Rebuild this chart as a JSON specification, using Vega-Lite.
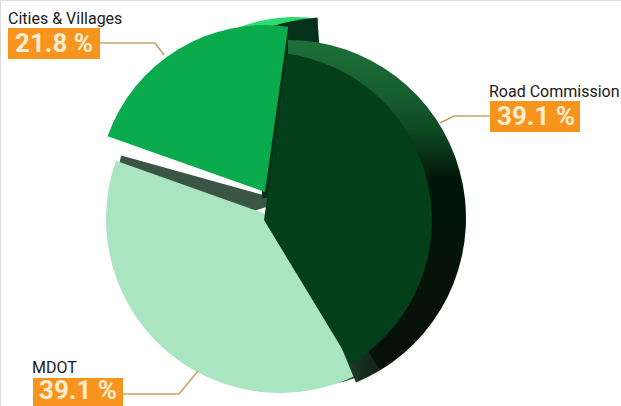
{"$schema":"https://vega.github.io/schema/vega-lite/v6.json","width":621,"height":406,"padding":0,"autosize":{"type":"fit","contains":"padding"},"background":"#ffffff","data":{"values":[{"slice":"Road Commission","share":39.1},{"slice":"MDOT","share":39.1},{"slice":"Cities & Villages","share":21.8}]},"transform":[{"stack":"share","groupby":[],"as":["s0","s1"]},{"calculate":"format(datum.share,'.1f')+' %'","as":"share_text"}],"layer":[
{"transform":[{"filter":"datum.slice==='MDOT'"}],"mark":{"type":"arc","x":285,"y":201,"outerRadius":170,"theta":4.4,"theta2":4.983,"fill":"#3a5544"},"encoding":{}},
{"transform":[{"filter":"datum.slice==='Cities & Villages'"}],"mark":{"type":"arc","x":296,"y":178,"outerRadius":161,"fill":"#2edb6e"},"encoding":{"theta":{"field":"s0","type":"quantitative","stack":null,"scale":{"domain":[0,100],"range":[0.1396,6.4228]}},"theta2":{"field":"s1"}}},
{"transform":[{"filter":"datum.slice==='Cities & Villages'"}],"mark":{"type":"arc","x":330,"y":198,"outerRadius":181,"theta":-0.7,"theta2":-0.07,"fill":"#05301a"},"encoding":{}},
{"transform":[{"filter":"datum.slice==='Cities & Villages'"}],"mark":{"type":"arc","x":262,"y":198,"outerRadius":155,"theta":0,"theta2":1.57,"fill":"#05301a"},"encoding":{}},
{"transform":[{"filter":"datum.slice==='Cities & Villages'"}],"mark":{"type":"arc","x":265,"y":192,"outerRadius":167,"fill":"#09ab4c"},"encoding":{"theta":{"field":"s0","type":"quantitative","stack":null},"theta2":{"field":"s1"}}},
{"transform":[{"filter":"datum.slice==='MDOT'"}],"mark":{"type":"arc","x":300,"y":215,"outerRadius":172,"theta":2.62,"theta2":3.11,"fill":"#2c5a3c"},"encoding":{}},
{"transform":[{"filter":"datum.slice==='MDOT'"}],"mark":{"type":"arc","x":280,"y":219,"outerRadius":174,"fill":"#a9e5c0"},"encoding":{"theta":{"field":"s0","type":"quantitative","stack":null},"theta2":{"field":"s1"}}},
{"transform":[{"filter":"datum.slice==='MDOT'"}],"mark":{"type":"arc","x":288,"y":218,"outerRadius":178,"theta":2.6,"theta2":2.75,"fill":{"x1":0,"y1":0,"x2":1,"y2":0,"gradient":"linear","stops":[{"offset":0,"color":"#3a6a4c"},{"offset":1,"color":"#0f2015"}]}},"encoding":{}},
{"transform":[{"filter":"datum.slice==='Road Commission'"}],"mark":{"type":"arc","x":288,"y":218,"outerRadius":178,"theta":0,"theta2":2.6,"fill":{"x1":0,"y1":0,"x2":0,"y2":1,"gradient":"linear","stops":[{"offset":0,"color":"#1e7038"},{"offset":0.15,"color":"#186030"},{"offset":0.27,"color":"#0e4a22"},{"offset":0.42,"color":"#02160a"},{"offset":1,"color":"#0a0f0a"}]}},"encoding":{}},
{"transform":[{"filter":"datum.slice==='Road Commission'"}],"mark":{"type":"arc","x":264,"y":220,"outerRadius":168,"fill":"#033f18"},"encoding":{"theta":{"field":"s0","type":"quantitative","stack":null},"theta2":{"field":"s1"}}},
{"transform":[{"filter":"datum.slice==='Cities & Villages'"}],"mark":{"type":"rule","stroke":"#c9a063","strokeWidth":1.5},"encoding":{"x":{"value":100},"y":{"value":43},"x2":{"value":155},"y2":{"value":43}}},
{"transform":[{"filter":"datum.slice==='Cities & Villages'"}],"mark":{"type":"rule","stroke":"#c9a063","strokeWidth":1.5},"encoding":{"x":{"value":155},"y":{"value":43},"x2":{"value":164},"y2":{"value":55}}},
{"transform":[{"filter":"datum.slice==='Road Commission'"}],"mark":{"type":"rule","stroke":"#c9a063","strokeWidth":1.5},"encoding":{"x":{"value":440},"y":{"value":123},"x2":{"value":454},"y2":{"value":116}}},
{"transform":[{"filter":"datum.slice==='Road Commission'"}],"mark":{"type":"rule","stroke":"#c9a063","strokeWidth":1.5},"encoding":{"x":{"value":454},"y":{"value":116},"x2":{"value":490},"y2":{"value":116}}},
{"transform":[{"filter":"datum.slice==='MDOT'"}],"mark":{"type":"rule","stroke":"#c9a063","strokeWidth":1.5},"encoding":{"x":{"value":123},"y":{"value":394},"x2":{"value":179},"y2":{"value":394}}},
{"transform":[{"filter":"datum.slice==='MDOT'"}],"mark":{"type":"rule","stroke":"#c9a063","strokeWidth":1.5},"encoding":{"x":{"value":179},"y":{"value":394},"x2":{"value":198},"y2":{"value":371}}},
{"transform":[{"filter":"datum.slice==='Cities & Villages'"}],"mark":{"type":"rect","x":8,"y":28,"x2":100,"y2":59,"fill":"#f7941e"},"encoding":{}},
{"transform":[{"filter":"datum.slice==='Road Commission'"}],"mark":{"type":"rect","x":490,"y":101,"x2":580,"y2":132,"fill":"#f7941e"},"encoding":{}},
{"transform":[{"filter":"datum.slice==='MDOT'"}],"mark":{"type":"rect","x":33,"y":378,"x2":123,"y2":406,"fill":"#f7941e"},"encoding":{}},
{"transform":[{"filter":"datum.slice==='Cities & Villages'"}],"mark":{"type":"text","x":8,"y":24,"align":"left","baseline":"alphabetic","font":"Roboto","fontSize":16,"fill":"#1a1a1a"},"encoding":{"text":{"field":"slice"}}},
{"transform":[{"filter":"datum.slice==='Road Commission'"}],"mark":{"type":"text","x":489,"y":97,"align":"left","baseline":"alphabetic","font":"Roboto","fontSize":16,"fill":"#1a1a1a"},"encoding":{"text":{"field":"slice"}}},
{"transform":[{"filter":"datum.slice==='MDOT'"}],"mark":{"type":"text","x":32,"y":373,"align":"left","baseline":"alphabetic","font":"Roboto","fontSize":16,"fill":"#1a1a1a"},"encoding":{"text":{"field":"slice"}}},
{"transform":[{"filter":"datum.slice==='Cities & Villages'"}],"mark":{"type":"text","x":15,"y":52,"align":"left","baseline":"alphabetic","font":"Roboto","fontSize":26,"fontWeight":700,"fill":"#fdecd0"},"encoding":{"text":{"field":"share_text"}}},
{"transform":[{"filter":"datum.slice==='Road Commission'"}],"mark":{"type":"text","x":497,"y":125,"align":"left","baseline":"alphabetic","font":"Roboto","fontSize":26,"fontWeight":700,"fill":"#fdecd0"},"encoding":{"text":{"field":"share_text"}}},
{"transform":[{"filter":"datum.slice==='MDOT'"}],"mark":{"type":"text","x":39,"y":399,"align":"left","baseline":"alphabetic","font":"Roboto","fontSize":26,"fontWeight":700,"fill":"#fdecd0"},"encoding":{"text":{"field":"share_text"}}}
]}
